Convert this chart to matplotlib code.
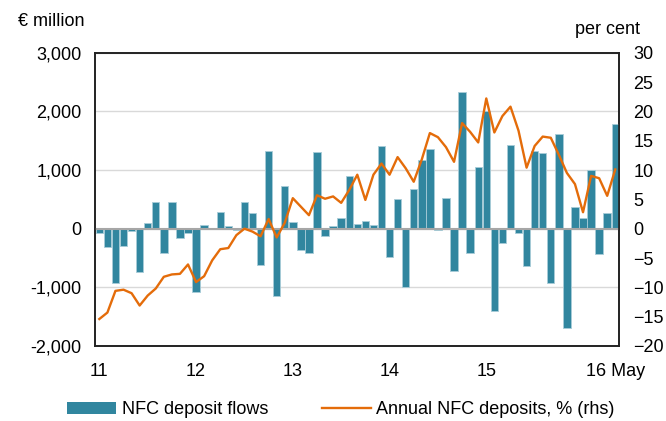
import matplotlib
matplotlib.use("Agg")
import matplotlib.pyplot as plt
from matplotlib.patches import Patch
from matplotlib.lines import Line2D
import numpy as np

plt.rcParams['font.family'] = ['Liberation Sans', 'DejaVu Sans']

# Monthly data Jan 2011 - May 2016
flows = [-75, -320, -932, -290, -38, -744, 91, 455, -420, 462, -153, -70,
         -1085, 57, 5, 284, 45, -30, 462, 267, -625, 1324, -1142, 733,
         114, -364, -409, 1301, -119, 51, 188, 903, 85, 136, 62, 1415,
         -477, 506, -989, 670, 1165, 1358, -15, 523, -722, 2330, -409, 1045,
         2006, -1409, -250, 1432, -68, -642, 1324, 1284, -932, 1608, -1693, 375,
         182, 1000, -432, 267, 1778]
growth = [-15.4, -14.3, -10.6, -10.4, -11.0, -13.1, -11.4, -10.2, -8.2, -7.8, -7.7, -6.1,
          -9.1, -8.1, -5.4, -3.5, -3.3, -1.1, 0.0, -0.5, -1.3, 1.65, -1.5, 1.0,
          5.2, 3.75, 2.3, 5.7, 5.1, 5.5, 4.4, 6.6, 9.2, 4.9, 9.2, 11.1,
          9.2, 12.2, 10.3, 8.0, 11.8, 16.3, 15.6, 13.9, 11.4, 18.0, 16.5, 14.7,
          22.2, 16.4, 19.2, 20.8, 16.7, 10.4, 14.1, 15.7, 15.5, 12.6, 9.5, 7.6,
          2.8, 9.0, 8.6, 5.6, 10.1]
year_labels = ['11', '12', '13', '14', '15', '16 May']
year_pos = [0, 12, 24, 36, 48, 64]
left_ticks = [-2000, -1000, 0, 1000, 2000, 3000]
right_ticks = [-20, -15, -10, -5, 0, 5, 10, 15, 20, 25, 30]

bar_color = '#31869F'
line_color = '#E46C0A'
FS = 13

fig = plt.figure(figsize=(6.66, 4.21), dpi=100)
ax = fig.add_axes([95.3/666, 1-346/421, (619.3-95.3)/666, (346-52.7)/421])
ax2 = ax.twinx()

x = np.arange(len(flows))
ax.bar(x, flows, width=0.92, color=bar_color, edgecolor='#A8CCD8', linewidth=0.6, zorder=3)
ax.axhline(0, color='#A6A6A6', linewidth=1.5, zorder=4)
ax.set_ylim(-2000, 3000)
ax.set_yticks(left_ticks)
ax.set_yticklabels([f'{v:,}' for v in left_ticks])
ax.set_xlim(-0.5, len(flows) - 0.5)
ax.grid(axis='y', color='#D9D9D9', linewidth=1.0, zorder=0)
ax.set_axisbelow(True)

ax2.plot(x, growth, color=line_color, linewidth=1.7, zorder=5)
ax2.set_ylim(-20, 30)
ax2.set_yticks(right_ticks)

ax.set_xticks(year_pos)
ax.set_xticklabels(year_labels)
for a in (ax, ax2):
    a.tick_params(axis='both', length=0, labelsize=FS, colors='black')
ax.tick_params(axis='y', pad=10)
ax2.tick_params(axis='y', pad=10)
ax.tick_params(axis='x', pad=12)
for a in (ax, ax2):
    for s in a.spines.values():
        s.set_color('#222222'); s.set_linewidth(1.2)

fig.text(18/666, 1-22/421, '€ million', fontsize=FS, ha='left', va='center')
fig.text(640/666, 1-30/421, 'per cent', fontsize=FS, ha='right', va='center')

handles = [Patch(facecolor=bar_color, edgecolor='none', label='NFC deposit flows'),
           Line2D([0], [0], color=line_color, linewidth=1.7, label='Annual NFC deposits, % (rhs)')]
fig.legend(handles=handles, loc='center', bbox_to_anchor=(341/666, 1-410/421), ncol=2,
           frameon=False, fontsize=FS, handlelength=2.7, handleheight=0.6,
           columnspacing=3.0, handletextpad=0.3)

fig.savefig('out.png', dpi=100)
